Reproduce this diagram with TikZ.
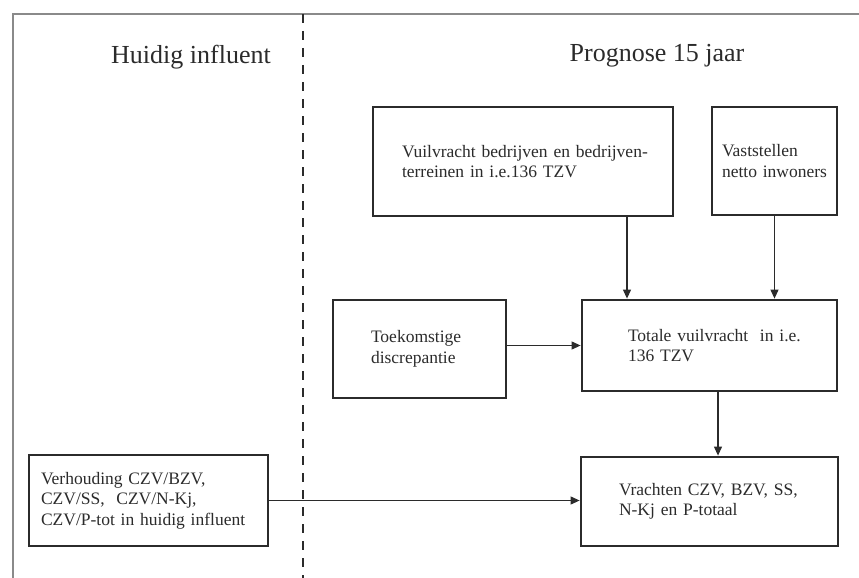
\documentclass[tikz,border=0pt]{standalone}
\usepackage{fontspec}
\setmainfont{Liberation Serif}
\usetikzlibrary{arrows.meta}
\definecolor{ink}{HTML}{2B2B2B}
\definecolor{frame}{HTML}{8A8A8A}
\tikzset{
  every node/.style={font=\fontsize{17.5}{20.5}\selectfont, text=ink},
  heavybox/.style={draw=ink, line width=2.8pt, rectangle, align=left, anchor=center},
  lightbox/.style={draw=ink, line width=1.2pt, rectangle, align=left, anchor=center},
  title/.style={font=\fontsize{26}{30}\selectfont},
  flow/.style={draw=ink, line width=1.1pt, -{Triangle[length=9pt,width=8pt]}},
}
\begin{document}
\begin{tikzpicture}[x=1pt,y=-1pt]
\useasboundingbox (0,0) rectangle (859,578);

% open outer frame and dashed divider
\draw[frame, line width=1.5pt] (13,578) -- (13,14) -- (859,14);
\draw[ink, line width=1.4pt, dash pattern=on 9pt off 8pt] (303,14) -- (303,578);

% column headings
\node[title] (hleft) at (191,57) {Huidig influent};
\node[title] (hright) at (657,56) {Prognose 15 jaar};

% boxes (each text line kept whole)
\node[heavybox, minimum width=300pt, minimum height=109pt, inner xsep=29pt, text width=242pt]
  (vuil) at (523,161.5) {\mbox{Vuilvracht bedrijven en bedrijven-}\\\mbox{terreinen in i.e.136 TZV}};
\node[heavybox, minimum width=125pt, minimum height=108pt, inner xsep=10pt, text width=105pt]
  (vast) at (774.5,161) {\mbox{Vaststellen}\\\mbox{netto inwoners}};
\node[heavybox, minimum width=173pt, minimum height=98pt, inner xsep=38pt, text width=97pt]
  (toek) at (419.5,349) {\mbox{Toekomstige}\\\mbox{discrepantie}};
\node[heavybox, minimum width=255pt, minimum height=91pt, inner xsep=46pt, text width=163pt]
  (tot) at (709.5,345.5) {\mbox{Totale vuilvracht \ in i.e.}\\\mbox{136 TZV}};
\node[heavybox, minimum width=257pt, minimum height=89pt, inner xsep=38pt, text width=181pt]
  (vra) at (709.5,501.5) {\mbox{Vrachten CZV, BZV, SS,}\\\mbox{N-Kj en P-totaal}};
\node[lightbox, minimum width=239pt, minimum height=91pt, inner xsep=12pt, text width=215pt]
  (verh) at (148.5,500.5) {\mbox{Verhouding CZV/BZV,}\\\mbox{CZV/SS, \ CZV/N-Kj,}\\\mbox{CZV/P-tot in huidig influent}};

% connectors
\draw[flow] ([xshift=104pt]vuil.south) -- ([xshift=104pt]vuil.south |- tot.north);
\draw[flow] (vast.south) -- (vast.south |- tot.north);
\draw[flow] (toek.east |- tot.west) -- (tot.west);
\draw[flow] ([xshift=8.5pt]tot.south) -- ([xshift=8.5pt]tot.south |- vra.north);
\draw[flow] (verh.east) -- (verh.east -| vra.west);
\end{tikzpicture}
\end{document}
